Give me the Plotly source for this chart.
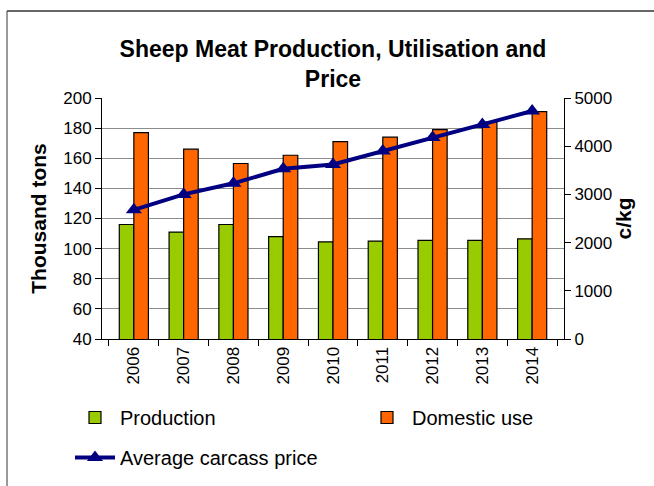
import plotly.graph_objects as go

years = ["2006", "2007", "2008", "2009", "2010", "2011", "2012", "2013", "2014"]
production = [116, 111, 116, 108, 104.5, 105, 105.5, 105.5, 106.5]
domestic_use = [177, 166, 156.5, 162, 171, 174, 179, 184, 191]
avg_price = [2680, 3000, 3230, 3530, 3620, 3900, 4180, 4450, 4730]

FONT = "Liberation Sans, Arial, sans-serif"

fig = go.Figure()
fig.add_trace(go.Bar(
    x=years, y=production, name="Production",
    marker=dict(color="#99CC00", line=dict(color="#000000", width=1.2)),
    legend="legend",
))
fig.add_trace(go.Bar(
    x=years, y=domestic_use, name="Domestic use",
    marker=dict(color="#FF6600", line=dict(color="#000000", width=1.2)),
    legend="legend2",
))
fig.add_trace(go.Scatter(
    x=years, y=avg_price, name="Average carcass price", yaxis="y2",
    mode="lines+markers",
    line=dict(color="#000080", width=4),
    marker=dict(symbol="triangle-up", size=14, color="#000080"),
    legend="legend3",
))

leg_common = dict(orientation="h", xanchor="left", yanchor="top", yref="container",
                  itemwidth=40, font=dict(size=20), bgcolor="rgba(0,0,0,0)")

fig.update_layout(
    width=654, height=486,
    margin=dict(l=102, r=90, t=98, b=147, autoexpand=False),
    paper_bgcolor="white", plot_bgcolor="white",
    font=dict(family=FONT, color="#000000", size=17),
    title=dict(
        text="<b>Sheep Meat Production, Utilisation and<br>Price</b>",
        x=0.5, xanchor="center", xref="paper",
        y=1 - 57 / 486, yanchor="top", yref="container",
        font=dict(size=23, family=FONT),
    ),
    barmode="group", bargap=0.415, bargroupgap=0,
    xaxis=dict(
        type="category", tickangle=-90, tickson="boundaries",
        ticks="outside", ticklen=6, tickcolor="#000000",
        showline=True, linecolor="#000000", linewidth=1,
        showgrid=False, tickfont=dict(size=17),
    ),
    yaxis=dict(
        range=[40, 200], dtick=20, tick0=40,
        ticks="outside", ticklen=6, tickcolor="#000000",
        showline=True, linecolor="#000000", linewidth=1,
        showgrid=True, gridcolor="#8c8c8c", gridwidth=1,
        zeroline=False, tickfont=dict(size=17),
        title=dict(text="<b>Thousand tons</b>", font=dict(size=21), standoff=10),
    ),
    yaxis2=dict(
        overlaying="y", side="right",
        range=[0, 5000], dtick=1000,
        ticks="outside", ticklen=6, tickcolor="#000000",
        showline=True, linecolor="#000000", linewidth=1,
        showgrid=False, zeroline=False, tickfont=dict(size=17),
        title=dict(text="<b>c/kg</b>", font=dict(size=21), standoff=0),
    ),
    legend=dict(x=(70 - 102) / 462, y=1 - 398 / 486, **leg_common),
    legend2=dict(x=(362 - 102) / 462, y=1 - 398 / 486, **leg_common),
    legend3=dict(x=(70 - 102) / 462, y=1 - 438 / 486, **leg_common),
    showlegend=True,
)

# outer chart frame (top and left edges visible in the reference)
fig.add_shape(type="line", xref="paper", yref="paper",
              x0=(7 - 102) / 462, x1=(660 - 102) / 462,
              y0=(339 - 11) / 241, y1=(339 - 11) / 241,
              line=dict(color="#333333", width=1.5))
fig.add_shape(type="line", xref="paper", yref="paper",
              x0=(7 - 102) / 462, x1=(7 - 102) / 462,
              y0=(339 - 11) / 241, y1=(339 - 500) / 241,
              line=dict(color="#555555", width=1.2))

fig.write_html("out.html", config={"displayModeBar": False},
               post_script="document.body.style.margin='0';")
